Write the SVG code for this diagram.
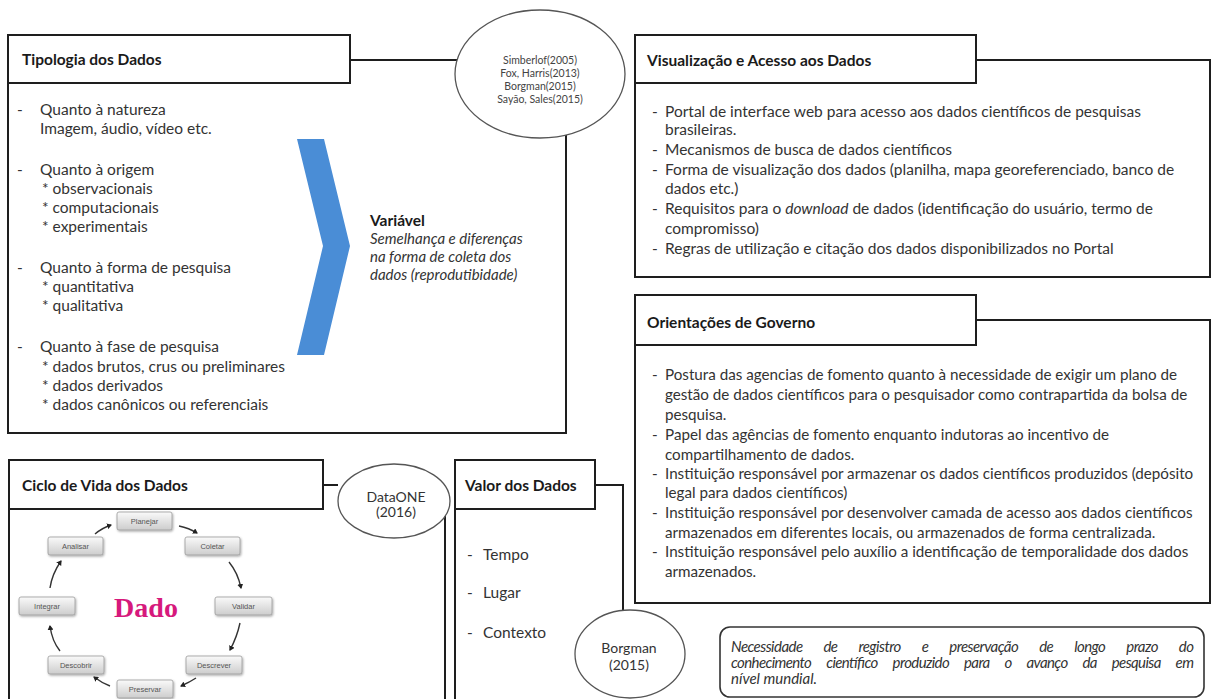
<svg xmlns="http://www.w3.org/2000/svg" width="1218" height="699" viewBox="0 0 1218 699">
<defs>
<style>
.frame{fill:none;stroke:#1e1e1e;stroke-width:2}
.hdr{fill:#fff;stroke:#1e1e1e;stroke-width:2}
.circ{fill:#fff;stroke:#555;stroke-width:1.3}
.conn{fill:none;stroke:#1e1e1e;stroke-width:2}
.t{font-family:Lato,"Liberation Sans",sans-serif;font-size:15.5px;fill:#333}
.to{font-family:Lato,"Liberation Sans",sans-serif;font-size:15.2px;fill:#333}
.tb{font-family:Lato,"Liberation Sans",sans-serif;font-size:15.5px;font-weight:bold;fill:#1a1a1a}
.ti{font-family:Lato,"Liberation Sans",sans-serif;font-size:15px;font-style:italic;fill:#333}
.ct{font-family:Lato,"Liberation Sans",sans-serif;font-size:10.5px;fill:#444;text-anchor:middle}
.cm{font-family:Lato,"Liberation Sans",sans-serif;font-size:14px;fill:#333;text-anchor:middle}
.cb{fill:url(#gbox);stroke:#9a9a9a;stroke-width:0.8;filter:url(#sh)}
.cbt{font-family:"Liberation Sans",sans-serif;font-size:7.5px;fill:#555;text-anchor:middle}
.arr{fill:none;stroke:#333;stroke-width:1.4;marker-end:url(#ah)}
</style>
<linearGradient id="gbox" x1="0" y1="0" x2="0" y2="1">
<stop offset="0" stop-color="#fafafa"/>
<stop offset="1" stop-color="#cdcdcd"/>
</linearGradient>
<filter id="sh" x="-20%" y="-30%" width="140%" height="170%">
<feDropShadow dx="0.8" dy="1.2" stdDeviation="0.8" flood-color="#000" flood-opacity="0.35"/>
</filter>
<marker id="ah" markerUnits="userSpaceOnUse" markerWidth="6" markerHeight="6" refX="4" refY="3" orient="auto">
<path d="M0,0 L5,3 L0,6 Z" fill="#222"/>
</marker>
</defs>

<g id="connectors">
<path class="conn" d="M350,60 H457"/>
<path class="conn" d="M323,485 H338"/>
<path class="conn" d="M595,485 H623 V610"/>
</g>

<g id="tipologia">
<path class="frame" d="M8,83 V433 H566 V135"/>
<rect class="hdr" x="8" y="35" width="342" height="48"/>
<text class="tb" x="22" y="65">Tipologia dos Dados</text>
<text class="t" x="17" y="115">-</text><text class="t" x="40" y="115">Quanto à natureza</text>
<text class="t" x="40" y="134">Imagem, áudio, vídeo etc.</text>
<text class="t" x="17" y="175">-</text><text class="t" x="40" y="175">Quanto à origem</text>
<text class="t" x="42" y="194">* observacionais</text>
<text class="t" x="42" y="213">* computacionais</text>
<text class="t" x="42" y="232">* experimentais</text>
<text class="t" x="17" y="273">-</text><text class="t" x="40" y="273">Quanto à forma de pesquisa</text>
<text class="t" x="42" y="292">* quantitativa</text>
<text class="t" x="42" y="311">* qualitativa</text>
<text class="t" x="17" y="352">-</text><text class="t" x="40" y="352">Quanto à fase de pesquisa</text>
<text class="t" x="42" y="372">* dados brutos, crus ou preliminares</text>
<text class="t" x="42" y="391">* dados derivados</text>
<text class="t" x="42" y="410">* dados canônicos ou referenciais</text>
</g>

<g id="variavel">
<path d="M297,139 L324,139 L350,246 L324,355 L297,355 L323,246 Z" fill="#4a8dd6"/>
<text class="tb" x="370" y="226">Variável</text>
<text class="ti" x="370" y="244">Semelhança e diferenças</text>
<text class="ti" x="370" y="262">na forma de coleta dos</text>
<text class="ti" x="370" y="280">dados (reprodutibidade)</text>
</g>

<g id="ref-tipologia">
<ellipse class="circ" cx="540" cy="74" rx="85" ry="64"/>
<text class="ct" x="540" y="64">Simberlof(2005)</text>
<text class="ct" x="540" y="77">Fox, Harris(2013)</text>
<text class="ct" x="540" y="90">Borgman(2015)</text>
<text class="ct" x="540" y="103">Sayão, Sales(2015)</text>
</g>

<g id="visualizacao">
<path class="frame" d="M976,60 H1210 V277 H635 V83"/>
<rect class="hdr" x="635" y="35" width="341" height="48"/>
<text class="tb" x="647" y="66">Visualização e Acesso aos Dados</text>
<text class="t" x="652" y="117">-</text><text class="t" x="665" y="117">Portal de interface web para acesso aos dados científicos de pesquisas</text>
<text class="t" x="665" y="135">brasileiras.</text>
<text class="t" x="652" y="155">-</text><text class="t" x="665" y="155">Mecanismos de busca de dados científicos</text>
<text class="t" x="652" y="175">-</text><text class="t" x="665" y="175">Forma de visualização dos dados (planilha, mapa georeferenciado, banco de</text>
<text class="t" x="665" y="194">dados etc.)</text>
<text class="t" x="652" y="214">-</text><text class="t" x="665" y="214">Requisitos para o <tspan font-style="italic">download</tspan> de dados (identificação do usuário, termo de</text>
<text class="t" x="665" y="234">compromisso)</text>
<text class="t" x="652" y="254">-</text><text class="t" x="665" y="254">Regras de utilização e citação dos dados disponibilizados no Portal</text>
</g>

<g id="orientacoes">
<path class="frame" d="M976,320 H1210 V603 H635 V345"/>
<rect class="hdr" x="635" y="295" width="341" height="50"/>
<text class="tb" x="647" y="328">Orientações de Governo</text>
<text class="to" x="652" y="380">-</text><text class="to" x="665" y="380">Postura das agencias de fomento quanto à necessidade de exigir um plano de</text>
<text class="to" x="665" y="400">gestão de dados científicos para o pesquisador como contrapartida da bolsa de</text>
<text class="to" x="665" y="420">pesquisa.</text>
<text class="to" x="652" y="440">-</text><text class="to" x="665" y="440">Papel das agências de fomento enquanto indutoras ao incentivo de</text>
<text class="to" x="665" y="460">compartilhamento  de dados.</text>
<text class="to" x="652" y="479">-</text><text class="to" x="665" y="479">Instituição responsável por armazenar os dados científicos produzidos (depósito</text>
<text class="to" x="665" y="498">legal para dados científicos)</text>
<text class="to" x="652" y="518">-</text><text class="to" x="665" y="518">Instituição responsável por desenvolver camada de acesso aos dados científicos</text>
<text class="to" x="665" y="538">armazenados em diferentes locais, ou armazenados de forma centralizada.</text>
<text class="to" x="652" y="557">-</text><text class="to" x="665" y="557">Instituição responsável pelo auxílio a identificação de temporalidade dos dados</text>
<text class="to" x="665" y="577">armazenados.</text>
</g>

<g id="ciclo">
<path class="frame" d="M9,509 V700"/>
<path class="frame" d="M445,516 V700"/>
<rect class="hdr" x="9" y="460" width="314" height="49"/>
<text class="tb" x="22" y="491">Ciclo de Vida dos Dados</text>
<text x="146" y="617" font-family="'Liberation Serif',serif" font-size="28" font-weight="bold" fill="#d6197c" text-anchor="middle">Dado</text>
<g id="cycle-boxes">
<rect class="cb" x="117" y="512" width="55" height="18" rx="2"/><text class="cbt" x="144.5" y="524">Planejar</text>
<rect class="cb" x="185" y="537" width="55" height="18" rx="2"/><text class="cbt" x="212.5" y="549">Coletar</text>
<rect class="cb" x="215" y="597" width="57" height="18" rx="2"/><text class="cbt" x="243.5" y="609">Validar</text>
<rect class="cb" x="186" y="656" width="56" height="18" rx="2"/><text class="cbt" x="214" y="668">Descrever</text>
<rect class="cb" x="117" y="680" width="56" height="18" rx="2"/><text class="cbt" x="145" y="692">Preservar</text>
<rect class="cb" x="48" y="656" width="56" height="18" rx="2"/><text class="cbt" x="76" y="668">Descobrir</text>
<rect class="cb" x="19" y="597" width="56" height="18" rx="2"/><text class="cbt" x="47" y="609">Integrar</text>
<rect class="cb" x="48" y="537" width="55" height="18" rx="2"/><text class="cbt" x="75.5" y="549">Analisar</text>
</g>
<g id="cycle-arrows">
<path class="arr" d="M95,534 Q102,528 111,525"/>
<path class="arr" d="M179,526 Q189,528 197,533"/>
<path class="arr" d="M229,562 Q238,573 241,588"/>
<path class="arr" d="M240,623 Q237,637 230,650"/>
<path class="arr" d="M196,678 Q190,682 181,686"/>
<path class="arr" d="M110,686 Q102,683 94,677"/>
<path class="arr" d="M60,651 Q52,641 50,626"/>
<path class="arr" d="M50,588 Q52,574 61,561"/>
</g>
</g>

<g id="ref-dataone">
<ellipse class="circ" cx="394" cy="501" rx="56" ry="37"/>
<text class="cm" x="396" y="502">DataONE</text>
<text class="cm" x="396" y="517">(2016)</text>
</g>

<g id="valor">
<path class="frame" d="M455,509 V700"/>
<rect class="hdr" x="455" y="460" width="140" height="49"/>
<text class="tb" x="465" y="491">Valor dos Dados</text>
<text class="t" x="467" y="560">-</text><text class="t" x="483" y="560">Tempo</text>
<text class="t" x="467" y="598">-</text><text class="t" x="483" y="598">Lugar</text>
<text class="t" x="467" y="638">-</text><text class="t" x="483" y="638">Contexto</text>
</g>

<g id="ref-borgman">
<ellipse class="circ" cx="630" cy="654" rx="55" ry="44"/>
<text class="cm" x="629" y="653">Borgman</text>
<text class="cm" x="629" y="670">(2015)</text>
</g>

<g id="nota">
<rect x="720" y="627" width="484" height="70" rx="10" fill="#fff" stroke="#333" stroke-width="1.6"/>
<text class="ti" x="731" y="652" word-spacing="18" textLength="463" lengthAdjust="spacing">Necessidade de registro e preservação de longo prazo do</text>
<text class="ti" x="731" y="668" word-spacing="12" textLength="463" lengthAdjust="spacing">conhecimento científico produzido para o avanço da pesquisa em</text>
<text class="ti" x="731" y="684">nível mundial.</text>
</g>
</svg>
